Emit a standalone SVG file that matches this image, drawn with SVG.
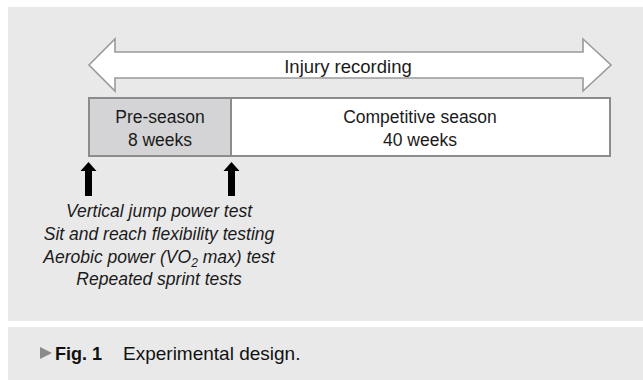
<svg xmlns="http://www.w3.org/2000/svg" width="643" height="380" viewBox="0 0 643 380">
<style>
.t{font-family:"Liberation Sans",Arial,sans-serif;fill:#1a1a1a;text-anchor:middle}
.box{stroke:#8c8c8c;stroke-width:2}
.it{font-family:"Liberation Sans",Arial,sans-serif;font-style:italic;font-size:17.5px;fill:#1a1a1a;text-anchor:middle}
</style>
<defs>
<path id="up" d="M0,0 L8,9 L3.5,9 L3.5,34 L-3.5,34 L-3.5,9 L-8,9 Z" fill="#000"/>
</defs>
<rect x="0" y="0" width="643" height="380" fill="#ffffff"/>
<rect x="8" y="7" width="635" height="314" fill="#e9e9ea"/>
<rect x="8" y="327" width="635" height="53" fill="#e9e9ea"/>
<g id="injury">
<polygon points="89,65 115,39 115,52 583,52 583,39 611,65 583,91 583,78 115,78 115,91" fill="#ffffff" stroke="#9a9a9a" stroke-width="1.6" stroke-linejoin="miter"/>
<text class="t" x="348" y="73" font-size="18.5">Injury recording</text>
</g>
<g id="preseason">
<rect class="box" x="89" y="98" width="142" height="58" fill="#d4d4d6"/>
<text class="t" x="160" y="123" font-size="17.5">Pre-season</text>
<text class="t" x="160" y="146" font-size="17.5">8 weeks</text>
</g>
<g id="competitive">
<rect class="box" x="231" y="98" width="379" height="58" fill="#ffffff"/>
<text class="t" x="420" y="123" font-size="17.5">Competitive season</text>
<text class="t" x="420" y="146" font-size="17.5">40 weeks</text>
</g>
<g id="connectors">
<use href="#up" x="88.5" y="162"/>
<use href="#up" x="231.5" y="162"/>
</g>
<g id="tests">
<text class="it" x="159" y="217">Vertical jump power test</text>
<text class="it" x="159" y="240">Sit and reach flexibility testing</text>
<text class="it" x="159" y="263">Aerobic power (VO<tspan font-size="12" dy="4">2</tspan><tspan dy="-4"> max) test</tspan></text>
<text class="it" x="159" y="285">Repeated sprint tests</text>
</g>
<g id="caption">
<polygon points="40,347 52,353 40,359" fill="#8a8a8a"/>
<text x="55" y="360" font-family="'Liberation Sans',Arial,sans-serif" fill="#111"><tspan font-weight="bold" font-size="18">Fig. 1</tspan><tspan x="123" font-size="19">Experimental design.</tspan></text>
</g>
</svg>
